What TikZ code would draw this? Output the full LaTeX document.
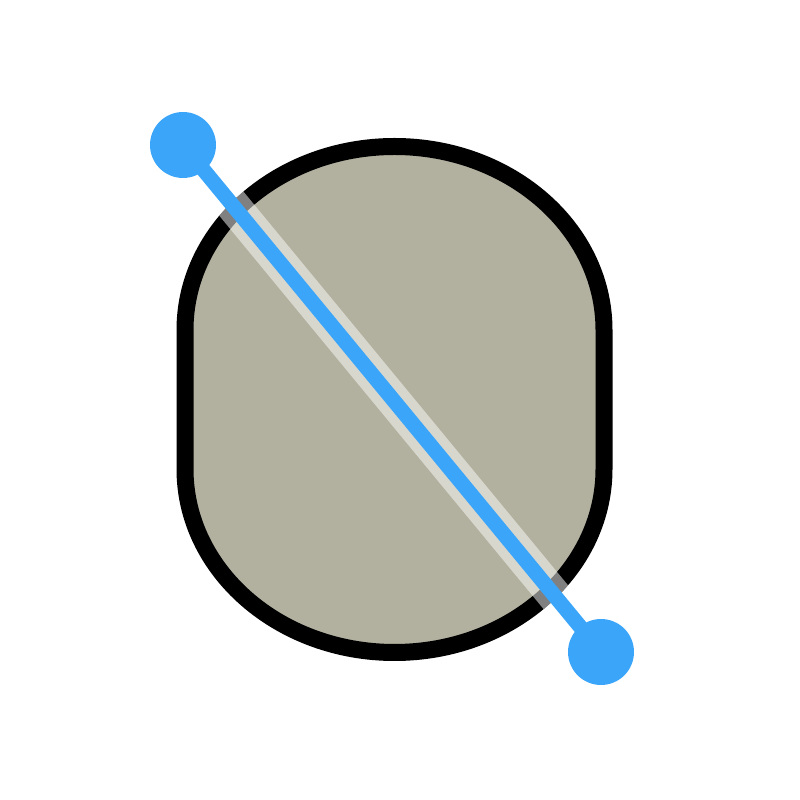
\documentclass[tikz,border=0pt]{standalone}
\definecolor{fillgray}{RGB}{178,176,158}
\definecolor{handleblue}{RGB}{59,165,250}
\tikzset{
  handle/.style={circle, fill=handleblue, draw=none, minimum size=66pt, inner sep=0pt},
  handleline/.style={draw=handleblue, line width=15pt},
  band/.style={draw=white, draw opacity=0.5, line width=34pt},
  outline/.style={draw=black, fill=fillgray, line width=17pt}
}
\begin{document}
\begin{tikzpicture}[x=1pt,y=1pt]
\useasboundingbox (0,0) rectangle (800,800);
% shape
\path[outline] (185,470) -- (185,331)
  arc[start angle=180, end angle=360, x radius=209.5, y radius=183.5]
  -- (604,470)
  arc[start angle=0, end angle=180, x radius=209.5, y radius=183.5] -- cycle;
\coordinate (pa) at (183,655);
\coordinate (pb) at (601,148);
% translucent band, clipped to the shape with its border
\begin{scope}
  \clip (176.5,470) -- (176.5,331)
    arc[start angle=180, end angle=360, x radius=218, y radius=192]
    -- (612.5,470)
    arc[start angle=0, end angle=180, x radius=218, y radius=192] -- cycle;
  \path[band] (pa) -- (pb);
\end{scope}
\path[handleline] (pa) -- (pb);
\node[handle] (a) at (pa) {};
\node[handle] (b) at (pb) {};
\end{tikzpicture}
\end{document}
